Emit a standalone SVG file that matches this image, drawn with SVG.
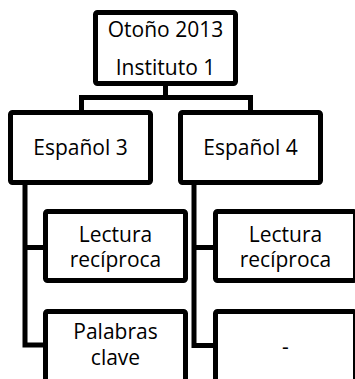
<svg xmlns="http://www.w3.org/2000/svg" width="355" height="379" viewBox="0 0 355 379">
<style>
.box{fill:#fff;stroke:#000;stroke-width:5;stroke-linejoin:round}
.con{fill:none;stroke:#000;stroke-width:5;stroke-linejoin:miter}
text{font-family:"Open Sans","Liberation Sans",sans-serif;font-size:21px;fill:#000;text-anchor:middle}
</style>
<rect width="355" height="379" fill="#fff"/>
<g id="connectors">
<path class="con" d="M165.5 84 V97.5 H81.5 V111 M165.5 97.5 H250.5 V111"/>
<path class="con" d="M25 184 V345 H44 M25 247.5 H44"/>
<path class="con" d="M194 184 V345.5 H214 M194 247.5 H214"/>
</g>
<g id="n-otono">
<rect class="box" x="95.5" y="12.5" width="140" height="71" rx="2"/>
<text x="165.5" y="37">Otoño 2013</text>
<text x="165.5" y="75">Instituto 1</text>
</g>
<g id="n-esp3">
<rect class="box" x="10.5" y="112.5" width="140" height="70" rx="2"/>
<text x="80.5" y="155">Español 3</text>
</g>
<g id="n-esp4">
<rect class="box" x="180.5" y="112.5" width="140" height="70" rx="2"/>
<text x="250.5" y="155">Español 4</text>
</g>
<g id="n-lect3">
<rect class="box" x="45.5" y="211.5" width="140" height="69" rx="2"/>
<text x="115.5" y="241.5">Lectura</text>
<text x="115.5" y="266.5">recíproca</text>
</g>
<g id="n-pal3">
<rect class="box" x="45.5" y="311.5" width="140" height="70" rx="2"/>
<text x="115.5" y="338.5">Palabras</text>
<text x="115.5" y="365">clave</text>
</g>
<g id="n-lect4">
<rect class="box" x="215.5" y="211.5" width="140" height="69" rx="2"/>
<text x="285.5" y="241.5">Lectura</text>
<text x="285.5" y="266.5">recíproca</text>
</g>
<g id="n-dash4">
<rect class="box" x="215.5" y="311.5" width="140" height="70" rx="2"/>
<text x="285.5" y="354">-</text>
</g>
</svg>
